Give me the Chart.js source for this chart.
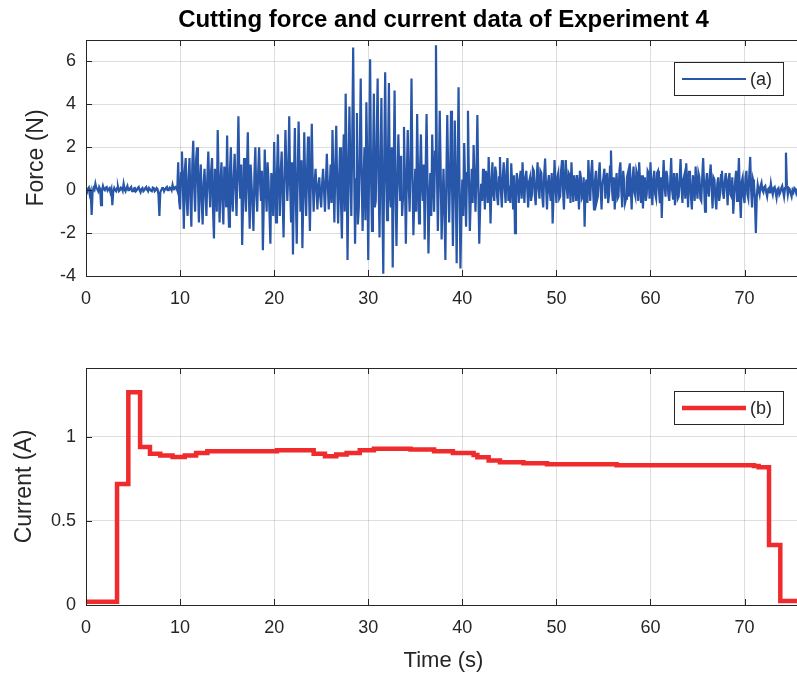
<!DOCTYPE html>
<html>
<head>
<meta charset="utf-8">
<script src="https://cdn.jsdelivr.net/npm/chart.js@4.4.1/dist/chart.umd.min.js"></script>
<style>
  html, body { margin: 0; padding: 0; background: #fff; overflow: hidden; }
  #lienzo { position: relative; width: 797px; height: 676px; overflow: hidden; }
  #caja-fuerza { position: absolute; left: 0; top: 0; }
  #caja-corriente { position: absolute; left: 0; top: 320px; }
</style>
</head>
<body>
<div id="lienzo">
  <div id="caja-fuerza"><canvas id="grafico-fuerza" width="801" height="320"></canvas></div>
  <div id="caja-corriente"><canvas id="grafico-corriente" width="801" height="356"></canvas></div>
</div>
<script>
// Datos
const titulo = 'Cutting force and current data of Experiment 4';

// Fuerza de corte (N), una muestra cada 0.1 s desde t = 0 (una fila por segundo)
const pasoMuestra = 0.1;
const fuerza = [
  0.1, 0.0, 0.05, 0.12, -0.2, -0.05, -1.15, -0.1, 0.1, 0.02,
  0.3, 0.1, 0.05, -0.05, 0.15, 0.05, -0.7, 0.0, 0.2, 0.05,
  0.0, 0.12, 0.15, -0.02, 0.05, 0.1, -0.1, 0.05, -0.7, -0.05,
  0.1, 0.0, -0.05, 0.1, 0.15, -0.05, 0.0, 0.12, 0.1, -0.02,
  0.3, 0.05, -0.05, 0.1, 0.2, 0.0, 0.0, 0.1, 0.15, -0.05,
  -0.05, 0.08, 0.1, -0.05, 0.0, 0.1, 0.15, 0.0, -0.1, 0.05,
  0.1, -0.05, 0.0, 0.1, 0.15, 0.02, -0.05, 0.1, 0.1, -0.02,
  -0.05, 0.12, 0.1, -0.05, 0.0, 0.1, 0.05, -0.2, -1.2, -0.1,
  0.0, 0.1, 0.1, -0.05, 0.05, 0.1, 0.15, 0.0, 0.0, 0.12,
  0.1, 0.0, 0.25, 0.05, 0.05, 0.15, 0.15, 0.0, 1.3, -0.5,
  -0.9, 0.8, 1.8, 0.2, -1.8, 0.9, 1.5, -0.5, -1.2, 0.6,
  1.5, -0.4, -1.7, 1.2, 2.3, 0.1, -1.0, 1.4, 2.0, 0.3,
  -1.5, 0.5, 1.2, -0.6, -1.6, 0.3, 1.0, -0.2, -1.2, 0.6,
  1.8, 0.2, -0.8, 0.9, 1.5, -0.9, -2.25, 1.0, 0.5, -1.0,
  2.8, 0.5, -1.5, 0.4, 1.3, -0.5, -1.6, 1.1, 0.8, -0.8,
  2.55, -0.3, -1.7, 0.9, 2.0, -0.4, -1.0, 0.6, 1.7, 0.2,
  -1.2, 1.0, 3.45, 0.6, -0.4, 1.2, -2.55, -0.5, 1.5, 0.1,
  -1.0, 0.8, 2.7, 0.0, -1.8, 1.2, 0.3, -0.8, -1.9, 0.7,
  2.0, -0.2, -1.0, 0.8, 2.0, 0.4, -0.5, 0.9, -2.8, -0.6,
  1.9, 0.2, -1.0, 1.3, 0.5, -1.0, -2.5, 0.8, 0.3, -1.2,
  2.25, 0.1, -1.5, 0.7, 2.6, 0.3, -1.2, 0.9, 1.8, -0.4,
  -2.2, 0.6, 2.8, 1.0, -0.5, 0.8, 3.45, 0.2, -1.5, 1.3,
  -3.0, 0.4, 2.9, -0.3, -2.5, 0.7, 3.2, 1.0, -1.0, 1.4,
  -2.7, -0.4, 2.7, 0.3, -1.2, 0.9, 2.5, 0.0, -1.9, 0.5,
  3.1, 0.4, -1.0, 0.3, 1.0, 0.1, -0.9, 0.2, 0.6, -0.3,
  -0.8, 0.3, 1.0, 0.0, -1.0, 0.4, 1.7, 0.3, -0.9, 0.0,
  1.2, -0.6, 2.8, 0.5, -1.5, 1.0, 3.0, 0.2, -1.55, 0.4,
  2.0, -0.5, -2.25, 0.9, 2.6, -1.0, 4.5, 1.2, -3.25, 0.6,
  3.9, 0.9, -1.2, 2.4, 6.65, 1.0, -2.5, 0.5, 3.6, -1.6,
  -0.8, 1.6, 5.2, 0.8, -1.9, 0.4, 2.0, -1.4, 4.1, 1.2,
  -3.25, 1.5, 6.1, 0.6, -1.9, 1.0, 4.5, -0.8, -0.5, 2.5,
  5.2, 0.4, -2.2, 1.3, 4.3, -0.6, -3.9, 1.4, 5.5, 0.8,
  -1.4, 1.5, 5.0, -0.2, -0.8, 2.0, -3.6, 0.6, 4.65, 0.2,
  -2.6, 0.3, 2.6, 0.8, -0.5, 1.6, -1.2, -0.3, 2.95, 0.4,
  -2.5, 0.6, 2.8, 0.3, -1.0, 1.4, 5.2, 0.7, -2.1, -0.4,
  1.0, -1.0, 3.55, 0.5, -1.55, 0.8, 2.6, 0.2, -0.5, 1.2,
  -2.3, 0.9, 3.55, 0.4, -2.95, -0.5, 0.8, -1.2, 2.6, 0.6,
  -1.0, 1.8, 6.75, 1.0, -1.9, 0.5, 3.7, 0.9, -2.3, -0.6,
  1.0, -0.9, -3.25, 0.4, 3.5, 0.8, -1.5, 0.6, 3.7, 0.5,
  -2.6, 0.2, 3.25, 0.3, -3.4, 0.9, 4.8, 0.4, -3.65, -1.0,
  0.5, -1.2, 2.2, 0.3, -1.7, 0.8, 3.7, 0.6, -1.9, -0.4,
  1.0, -0.6, 2.1, 0.5, -1.0, 0.7, 3.5, 0.3, -2.5, -0.7,
  0.3, -0.5, 1.0, 0.2, -0.9, 0.9, 0.6, -0.6, 1.55, 0.4,
  -1.55, 0.2, 1.3, -0.2, -0.5, 1.1, 0.8, -0.3, -0.7, 0.6,
  1.55, 0.0, -0.8, 0.6, 1.3, 0.1, -0.6, 0.9, 1.5, -0.5,
  0.2, -0.6, 1.25, 0.3, -0.9, 0.7, -2.0, -0.3, 0.8, 0.2,
  -0.6, 0.5, 0.9, -0.4, 1.3, 0.2, -0.6, 0.6, 0.9, 0.1,
  -0.8, 0.4, 0.6, -0.5, -0.2, 1.0, 0.9, -0.2, -0.7, 0.5,
  1.3, 0.1, -0.4, 0.9, 0.8, -0.3, -0.8, 0.7, 1.47, 0.2,
  -0.9, 0.3, 0.7, -0.1, -0.5, 0.8, -1.55, -0.2, 1.4, 0.3,
  -0.6, 0.6, 0.8, -0.4, -0.3, 0.9, 1.4, 0.0, -0.9, 0.5,
  1.4, 0.1, -0.4, 0.8, 0.7, -0.6, 1.3, 0.2, -0.55, 0.7,
  0.3, -0.5, 0.7, 0.1, -0.9, 0.9, 0.6, -0.4, -0.3, 0.6,
  -1.7, 0.2, 0.5, -0.6, 1.4, 0.3, -0.5, 0.8, 1.4, 0.0,
  -0.9, 0.4, 0.9, -0.5, -0.3, 0.7, 1.3, 0.1, -0.9, 0.3,
  0.6, 1.0, -0.4, 0.5, 0.8, -0.6, -0.2, 1.1, 1.85, 0.1,
  -0.5, 0.6, -0.9, 0.2, 0.8, -0.4, -0.3, 0.9, 1.3, 0.0,
  -0.8, 0.9, 0.4, -0.6, -0.4, 0.6, 0.8, -0.3, 1.25, 0.2,
  -0.9, 0.5, 1.1, -0.1, -0.3, 0.9, 0.7, -0.5, 1.3, 0.3,
  -0.6, 0.7, -0.85, 0.3, 0.6, -0.5, -0.2, 0.9, 0.8, -0.4,
  1.3, 0.1, -0.7, 0.5, 0.9, -0.2, -0.4, 0.8, 0.9, 0.0,
  -0.6, 0.6, -1.3, 0.3, 1.4, 0.2, -0.3, 0.9, 0.6, -0.2,
  -0.5, 0.4, 1.5, 0.0, -0.4, 0.8, -0.7, 0.3, 0.8, -0.4,
  -0.3, 0.6, 1.45, 0.1, -0.6, 0.5, 0.7, -0.4, 1.25, 0.3,
  -0.8, 0.9, 0.6, -0.3, -0.9, 0.7, 0.4, -0.5, 1.1, 0.2,
  -0.4, 0.8, 0.6, -0.4, -0.5, 0.6, 1.5, 0.2, -1.0, 0.3,
  0.8, 0.0, -0.3, 0.7, 1.2, 0.1, -0.85, 0.6, 0.5, -0.4,
  -0.9, 0.3, 0.6, -0.5, -0.2, 0.7, 0.9, -0.1, -0.4, 0.4,
  0.8, 0.2, -0.7, 0.5, 0.8, -0.2, -0.3, 0.6, -1.1, -0.2,
  0.4, 0.9, -0.5, 0.3, 1.5, -0.2, -1.3, 0.4, 0.6, -0.3,
  -0.6, 0.6, 0.9, -0.2, -0.4, 0.7, 1.55, 0.0, -0.8, 0.5,
  0.3, -0.4, -2.0, -0.3, 0.25, 0.0, -0.2, 0.2, 0.35, 0.0,
  -0.1, 0.15, 0.2, -0.1, -0.3, 0.05, 0.1, -0.15, 0.3, 0.0,
  -0.2, 0.1, 0.15, -0.1, -0.35, 0.05, 0.1, -0.2, -0.1, 0.1,
  0.2, -0.05, -0.3, 0.1, 1.75, 0.2, -0.2, 0.1, 0.05, -0.15,
  -0.3, 0.0, -0.1, 0.1, 0.05, -0.15, 0.0, 0.1, 0.1, -0.05,
  0.05
];

// Corriente (A): instante de cada escalón y nuevo valor
const tiempoCorriente = [0, 3.3, 4.5, 5.75, 6.8, 7.9, 9.2, 10.5, 11.7, 12.9, 20.3, 24.2, 25.4, 26.6, 27.7, 29.1, 30.6, 34.5, 37.0, 39.0, 41.2, 41.6, 42.8, 44.0, 46.5, 49.0, 56.4, 71.0, 71.5, 72.6, 73.8, 76.0];
const corriente = [0.02, 0.72, 1.265, 0.94, 0.90, 0.89, 0.88, 0.89, 0.905, 0.915, 0.92, 0.90, 0.885, 0.895, 0.905, 0.92, 0.93, 0.925, 0.915, 0.905, 0.893, 0.879, 0.859, 0.849, 0.843, 0.837, 0.831, 0.827, 0.82, 0.357, 0.024, 0.024];

// Marcas de los ejes
const marcasTiempo = [0, 10, 20, 30, 40, 50, 60, 70];
const marcasFuerza = [-4, -2, 0, 2, 4, 6];
const marcasCorriente = [0, 0.5, 1];

const fuente = "'Liberation Sans', Arial, sans-serif";
const colorTexto = '#262626';
const colorRejilla = 'rgba(0,0,0,0.13)';
const azul = '#2856a8';
const rojo = '#ef2b2d';

// Marco estilo MATLAB: caja completa, marcas hacia dentro y leyenda con borde
const marcoMatlab = {
    id: 'marcoMatlab',
    afterDraw(chart, args, opts) {
        const ctx = chart.ctx;
        const a = chart.chartArea;
        const sx = chart.scales.x;
        const sy = chart.scales.y;
        ctx.save();
        ctx.strokeStyle = colorTexto;
        ctx.lineWidth = 1;
        ctx.strokeRect(a.left + 0.5, a.top + 0.5, a.right - a.left, a.bottom - a.top);
        ctx.beginPath();
        sx.ticks.forEach(t => {
            const px = Math.round(sx.getPixelForValue(t.value)) + 0.5;
            ctx.moveTo(px, a.bottom); ctx.lineTo(px, a.bottom - 6);
            ctx.moveTo(px, a.top); ctx.lineTo(px, a.top + 6);
        });
        sy.ticks.forEach(t => {
            const py = Math.round(sy.getPixelForValue(t.value)) + 0.5;
            ctx.moveTo(a.left, py); ctx.lineTo(a.left + 6, py);
        });
        ctx.stroke();

        // leyenda
        const ds = chart.data.datasets[0];
        const x0 = a.right - opts.derecha - opts.ancho;
        const y0 = a.top + opts.arriba;
        ctx.fillStyle = '#fff';
        ctx.fillRect(x0, y0, opts.ancho, opts.alto);
        ctx.strokeStyle = colorTexto;
        ctx.strokeRect(x0 + 0.5, y0 + 0.5, opts.ancho, opts.alto);
        const ym = y0 + opts.alto / 2 + 0.5;
        ctx.beginPath();
        ctx.strokeStyle = ds.borderColor;
        ctx.lineWidth = ds.borderWidth;
        ctx.moveTo(x0 + 8, ym);
        ctx.lineTo(x0 + 72, ym);
        ctx.stroke();
        ctx.fillStyle = colorTexto;
        ctx.font = '18px ' + fuente;
        ctx.textAlign = 'left';
        ctx.textBaseline = 'middle';
        ctx.fillText(ds.label, x0 + 76, ym + 1);
        ctx.restore();
    }
};

function ejeX(alto, conTitulo) {
    return {
        type: 'linear',
        min: 0,
        max: 76,
        afterFit: s => { s.height = alto; },
        afterBuildTicks: s => { s.ticks = marcasTiempo.map(v => ({ value: v })); },
        grid: { color: colorRejilla, drawTicks: false },
        border: { display: false },
        ticks: { color: colorTexto, font: { family: fuente, size: 18 }, padding: 12, maxRotation: 0,
                 callback: v => String(v) },
        title: {
            display: conTitulo,
            text: 'Time (s)',
            color: colorTexto,
            font: { family: fuente, size: 22 },
            padding: { top: 0, bottom: 2 }
        }
    };
}

function ejeY(min, max, marcas, texto, margenTitulo) {
    return {
        type: 'linear',
        min: min,
        max: max,
        afterFit: s => { s.width = 86; },
        afterBuildTicks: s => { s.ticks = marcas.map(v => ({ value: v })); },
        grid: { color: colorRejilla, drawTicks: false },
        border: { display: false },
        ticks: { color: colorTexto, font: { family: fuente, size: 18 }, padding: 10,
                 callback: v => String(v) },
        title: {
            display: true,
            text: texto,
            color: colorTexto,
            font: { family: fuente, size: 23 },
            padding: { top: margenTitulo, bottom: 0 }
        }
    };
}

const puntosFuerza = fuerza.map((v, i) => ({ x: i * pasoMuestra, y: v }));
const puntosCorriente = tiempoCorriente.map((t, i) => ({ x: t, y: corriente[i] }));

new Chart(document.getElementById('grafico-fuerza'), {
    type: 'line',
    data: {
        datasets: [{
            label: '(a)',
            data: puntosFuerza,
            borderColor: azul,
            borderWidth: 2.2,
            pointRadius: 0,
            tension: 0
        }]
    },
    options: {
        responsive: false,
        animation: false,
        devicePixelRatio: 1,
        layout: { padding: 0 },
        scales: {
            x: ejeX(44, false),
            y: ejeY(-4, 7, marcasFuerza, 'Force (N)', 23)
        },
        plugins: {
            legend: { display: false },
            tooltip: { enabled: false },
            title: {
                display: true,
                text: titulo,
                fullSize: false,
                color: '#000',
                font: { family: fuente, size: 24, weight: 'bold' },
                padding: { top: 6, bottom: 5.2 }
            },
            marcoMatlab: { derecha: 18, arriba: 22, ancho: 109, alto: 33 }
        }
    },
    plugins: [marcoMatlab]
});

new Chart(document.getElementById('grafico-corriente'), {
    type: 'line',
    data: {
        datasets: [{
            label: '(b)',
            data: puntosCorriente,
            borderColor: rojo,
            borderWidth: 4.5,
            stepped: true,
            pointRadius: 0
        }]
    },
    options: {
        responsive: false,
        animation: false,
        devicePixelRatio: 1,
        layout: { padding: { top: 48 } },
        scales: {
            x: ejeX(71, true),
            y: ejeY(0, 1.41, marcasCorriente, 'Current (A)', 11)
        },
        plugins: {
            legend: { display: false },
            tooltip: { enabled: false },
            marcoMatlab: { derecha: 18, arriba: 23, ancho: 109, alto: 33 }
        }
    },
    plugins: [marcoMatlab]
});
</script>
</body>
</html>
